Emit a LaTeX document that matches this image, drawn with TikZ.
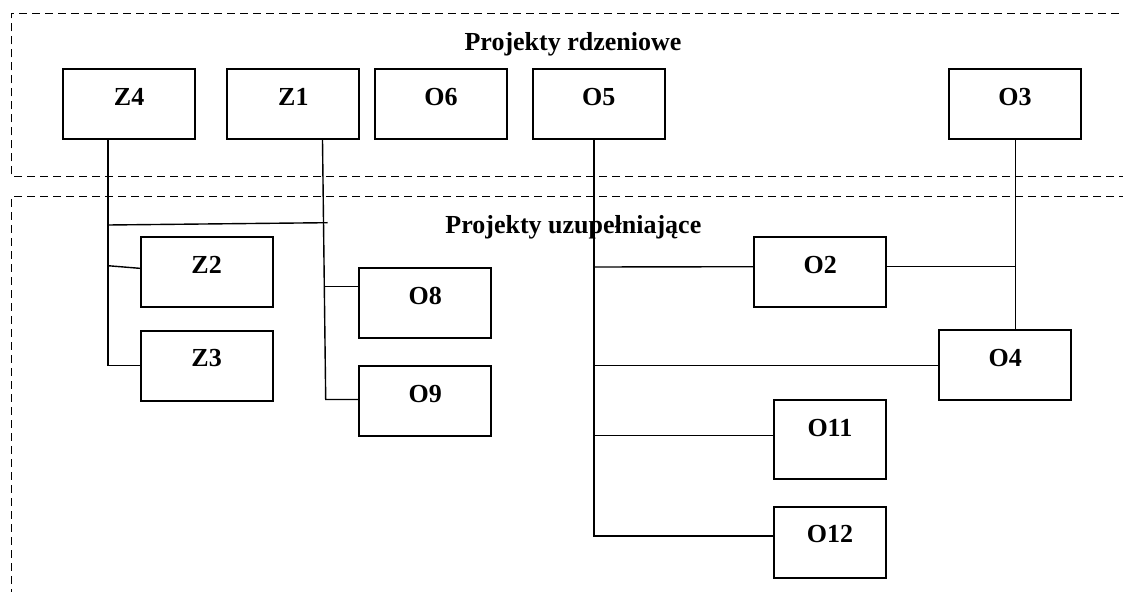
\documentclass[tikz,border=0pt]{standalone}
\usepackage{fontspec}
\setmainfont{Liberation Serif}
\begin{document}
\begin{tikzpicture}[x=1pt,y=-1pt,
  pbox/.style={draw, line width=2pt, inner sep=0pt, anchor=north west,
    minimum width=132pt, minimum height=70pt, text height=18pt, text depth=16pt,
    font=\bfseries\fontsize{26}{30}\selectfont},
  conn/.style={line width=1.4pt, line cap=rect},
  frame/.style={line width=1.4pt, dash pattern=on 8pt off 5pt},
  ttl/.style={anchor=base, inner sep=0pt, font=\bfseries\fontsize{26}{30}\selectfont}]
\useasboundingbox (0,0) rectangle (1123,591);
\clip (0,0) rectangle (1123,591);
% frames
\draw[frame] (1140,176.7) -- (11.4,176.7) -- (11.4,13.3) -- (1140,13.3);
\draw[frame] (1140,196.7) -- (11.4,196.7) -- (11.4,600);
\node[ttl] (t1) at (573,50.7) {Projekty rdzeniowe};
\node[ttl] (t2) at (573.4,233.3) {Projekty uzupełniające};
% core boxes
\node[pbox] (Z4) at (62.1,68.3) {Z4};
\node[pbox] (Z1) at (226.4,68.3) {Z1};
\node[pbox] (O6) at (374,68.3) {O6};
\node[pbox] (O5) at (531.7,68.3) {O5};
\node[pbox] (O3) at (947.9,68.3) {O3};
% supplementary boxes
\node[pbox] (Z2) at (139.6,236.3) {Z2};
\node[pbox] (Z3) at (139.6,329.7) {Z3};
\node[pbox] (O8) at (358.2,267) {O8};
\node[pbox] (O9) at (358.2,365.3) {O9};
\node[pbox] (O2) at (753.2,236.3) {O2};
\node[pbox] (O4) at (938.2,329.3) {O4};
\node[pbox, minimum width=112pt, minimum height=79pt, text depth=25pt] (O11) at (772.9,399.3) {O11};
\node[pbox, minimum width=112pt, minimum height=71.6pt, text depth=17.6pt] (O12) at (772.9,505.7) {O12};
% junction coordinates
\coordinate (z4s) at ([xshift=45.8pt]Z4.south west);
\coordinate (z1s) at ([xshift=96.1pt]Z1.south west);
\coordinate (o5s) at ([xshift=62.2pt]O5.south west);
\coordinate (o3s) at ([xshift=67.8pt]O3.south west);
\coordinate (jz2) at (107.9,265.7);
\coordinate (h1) at (107.9,225);
\coordinate (h2) at (326.8,222.7);
\coordinate (z1b) at (325.7,399.5);
\coordinate (jo8) at (324.6,286.7);
\coordinate (jo2) at (593.9,267);
\coordinate (jo4) at (593.9,365.7);
\coordinate (jo11) at (593.9,435.7);
\coordinate (o5b) at (593.9,536);
% connectors
\draw[conn] (z4s) |- (Z3.west);
\draw[conn] (jz2) -- ([yshift=4pt]Z2.west);
\draw[conn] (h1) -- (h2);
\draw[conn] (z1s) -- (z1b) -- (z1b -| O9.west);
\draw[conn] (jo8) -- (jo8 -| O8.west);
\draw[conn] (o5s) -- (o5b) -- (o5b -| O12.west);
\draw[conn] (jo2) -- ([yshift=5.6pt]O2.west);
\draw[conn] ([yshift=5.6pt]O2.east) -- ([yshift=5.6pt]O2.east -| o3s);
\draw[conn] (o3s) -- (o3s |- O4.north);
\draw[conn] (jo4) -- (jo4 -| O4.west);
\draw[conn] (jo11) -- (jo11 -| O11.west);
\end{tikzpicture}
\end{document}
